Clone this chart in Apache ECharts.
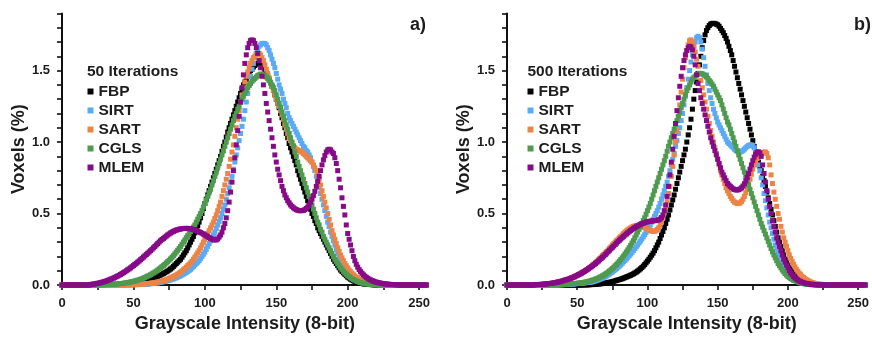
<!DOCTYPE html>
<html><head><meta charset="utf-8">
<script src="https://cdn.jsdelivr.net/npm/echarts@6/dist/echarts.min.js"></script>
<style>html,body{margin:0;padding:0;background:#fff}#c{width:872px;height:338px}</style>
</head><body><div id="c"></div>
<script>
// Grayscale value of the first entry in every array below (values outside the listed range are 0)
const X0 = 20;
const seriesNames = ['FBP', 'SIRT', 'SART', 'CGLS', 'MLEM'];
const panelTitles = ['50 Iterations', '500 Iterations'];
const panelTags = ['a)', 'b)'];
const xTickLabels = [0, 50, 100, 150, 200, 250];
const yTickLabels = [0, 0.5, 1.0, 1.5];
const xAxisTitle = 'Grayscale Intensity (8-bit)';
const yAxisTitle = 'Voxels (%)';

// ---- Panel a) 50 iterations, x = 20..235 ----
const fbpA = [
0,0,0,0,0,0,0,0,0,0,
0,0,0,0,0,0,0,.001,.001,.002,
.003,.003,.004,.005,.006,.007,.008,.009,.01,.011,
.012,.014,.015,.017,.018,.02,.023,.026,.029,.032,
.035,.038,.041,.044,.048,.052,.056,.06,.065,.07,
.075,.08,.086,.092,.098,.105,.112,.12,.13,.14,
.15,.16,.17,.18,.195,.21,.225,.24,.26,.28,
.3,.32,.34,.365,.39,.415,.44,.47,.5,.535,
.57,.6,.63,.66,.69,.72,.75,.78,.81,.84,
.87,.9,.935,.97,1.0,1.035,1.07,1.1,1.13,1.16,
1.19,1.22,1.25,1.28,1.31,1.34,1.37,1.4,1.42,1.44,
1.46,1.48,1.5,1.51,1.525,1.535,1.545,1.55,1.55,1.545,
1.535,1.52,1.505,1.485,1.465,1.44,1.415,1.39,1.36,1.33,
1.3,1.27,1.24,1.2,1.17,1.13,1.1,1.06,1.03,.99,
.96,.93,.9,.87,.84,.8,.77,.74,.71,.68,
.65,.62,.59,.56,.53,.5,.48,.45,.43,.4,
.38,.36,.34,.32,.3,.28,.26,.24,.22,.2,
.18,.165,.15,.135,.12,.105,.095,.085,.075,.065,
.055,.048,.041,.035,.03,.025,.021,.018,.015,.012,
.01,.008,.007,.006,.005,.004,.003,.002,.002,.001,
.001,0,0,0,0,0,0,0,0,0,
0,0,0,0,0,0];
const sirtA = [
0,0,0,0,0,0,0,0,0,0,
0,0,0,0,0,0,0,0,0,0,
0,0,0,0,0,.001,.001,.001,.001,.002,
.002,.002,.003,.003,.003,.004,.004,.005,.005,.006,
.007,.008,.009,.01,.011,.012,.014,.015,.017,.019,
.021,.023,.025,.027,.03,.033,.036,.039,.043,.047,
.05,.055,.06,.065,.07,.076,.082,.088,.095,.102,
.11,.12,.13,.14,.15,.16,.17,.185,.2,.215,
.23,.25,.27,.29,.31,.33,.35,.37,.395,.42,
.445,.47,.5,.53,.56,.6,.64,.68,.72,.76,
.81,.86,.91,.96,1.01,1.06,1.11,1.16,1.22,1.28,
1.34,1.4,1.46,1.51,1.55,1.59,1.62,1.65,1.67,1.68,
1.69,1.69,1.69,1.68,1.66,1.64,1.61,1.58,1.55,1.52,
1.48,1.44,1.4,1.37,1.34,1.3,1.27,1.24,1.2,1.17,
1.15,1.13,1.11,1.09,1.07,1.05,1.03,1.01,.99,.97,
.96,.94,.93,.91,.89,.86,.83,.8,.76,.72,
.68,.64,.6,.56,.52,.48,.44,.41,.37,.34,
.31,.28,.25,.22,.2,.18,.16,.14,.125,.11,
.098,.087,.077,.068,.06,.052,.045,.039,.034,.029,
.025,.021,.018,.015,.013,.011,.009,.007,.006,.005,
.004,.003,.002,.002,.001,.001,0,0,0,0,
0,0,0,0,0,0];
const sartA = [
0,0,0,0,0,0,0,0,0,0,
0,0,0,0,0,0,0,0,0,0,
0,0,0,0,.001,.001,.001,.002,.002,.002,
.003,.003,.004,.004,.005,.006,.006,.007,.008,.009,
.01,.011,.012,.014,.015,.017,.019,.021,.023,.025,
.028,.031,.034,.037,.041,.045,.05,.055,.06,.065,
.07,.076,.083,.09,.098,.106,.115,.125,.135,.145,
.155,.165,.18,.195,.21,.225,.24,.26,.28,.3,
.32,.34,.36,.38,.4,.42,.44,.465,.49,.52,
.55,.58,.62,.66,.7,.74,.78,.83,.88,.93,
.98,1.04,1.1,1.16,1.22,1.28,1.33,1.38,1.42,1.46,
1.49,1.52,1.55,1.57,1.59,1.6,1.61,1.62,1.62,1.61,
1.59,1.57,1.54,1.51,1.48,1.45,1.42,1.39,1.36,1.33,
1.3,1.27,1.25,1.22,1.19,1.16,1.12,1.09,1.06,1.03,
1.01,.99,.975,.96,.95,.945,.94,.935,.93,.92,
.91,.9,.89,.88,.87,.86,.84,.82,.8,.77,
.74,.7,.66,.62,.58,.54,.5,.46,.42,.38,
.35,.32,.29,.26,.235,.21,.19,.17,.15,.135,
.12,.105,.093,.082,.072,.063,.055,.048,.042,.037,
.032,.028,.024,.021,.018,.015,.013,.011,.009,.008,
.006,.005,.004,.003,.003,.002,.002,.001,.001,0,
0,0,0,0,0,0];
const cglsA = [
0,0,0,0,.001,.001,.001,.001,.002,.002,
.002,.003,.003,.004,.004,.005,.006,.006,.007,.008,
.009,.01,.011,.012,.014,.015,.017,.019,.021,.023,
.025,.028,.031,.034,.037,.04,.044,.048,.052,.057,
.062,.067,.072,.078,.084,.09,.097,.104,.112,.12,
.128,.136,.145,.154,.163,.173,.183,.194,.205,.217,
.23,.243,.256,.27,.285,.3,.315,.33,.345,.36,
.375,.39,.405,.42,.44,.46,.48,.5,.52,.545,
.57,.595,.62,.645,.67,.7,.73,.76,.79,.82,
.85,.88,.91,.94,.97,1.0,1.03,1.06,1.09,1.12,
1.15,1.18,1.2,1.23,1.25,1.28,1.3,1.32,1.34,1.36,
1.38,1.395,1.41,1.425,1.435,1.445,1.455,1.465,1.47,1.475,
1.475,1.47,1.465,1.455,1.445,1.43,1.415,1.4,1.38,1.36,
1.33,1.3,1.27,1.24,1.21,1.18,1.15,1.12,1.09,1.06,
1.03,1.0,.97,.93,.9,.86,.83,.8,.77,.74,
.71,.68,.65,.62,.59,.56,.53,.5,.47,.44,
.42,.39,.37,.34,.32,.3,.28,.26,.24,.22,
.2,.18,.165,.15,.135,.12,.108,.096,.085,.075,
.066,.058,.05,.044,.038,.033,.028,.024,.02,.017,
.014,.012,.01,.008,.007,.006,.005,.004,.003,.002,
.002,.001,.001,.001,0,0,0,0,0,0,
0,0,0,0,0,0];
const mlemA = [
.004,.005,.006,.008,.01,.012,.014,.016,.019,.022,
.025,.028,.032,.036,.04,.044,.048,.053,.058,.063,
.068,.074,.08,.086,.092,.099,.106,.113,.12,.128,
.136,.144,.152,.16,.168,.177,.186,.195,.204,.213,
.222,.231,.24,.25,.26,.27,.28,.29,.3,.31,
.318,.326,.334,.342,.35,.357,.364,.37,.375,.38,
.384,.387,.39,.392,.394,.395,.396,.396,.396,.395,
.393,.391,.388,.385,.381,.377,.372,.367,.362,.356,
.35,.344,.338,.332,.326,.321,.317,.315,.316,.322,
.335,.35,.37,.4,.43,.47,.52,.58,.65,.72,
.8,.89,.98,1.08,1.18,1.28,1.38,1.47,1.55,1.61,
1.66,1.69,1.71,1.715,1.71,1.69,1.66,1.62,1.57,1.52,
1.46,1.4,1.34,1.27,1.21,1.15,1.09,1.03,.97,.91,
.86,.81,.77,.73,.69,.66,.63,.61,.59,.575,
.56,.55,.54,.533,.527,.523,.52,.52,.52,.522,
.527,.535,.545,.56,.58,.6,.625,.655,.69,.725,
.76,.8,.84,.875,.905,.93,.945,.95,.945,.93,
.92,.89,.85,.8,.74,.68,.61,.55,.49,.42,
.36,.32,.28,.24,.2,.17,.145,.125,.108,.094,
.082,.071,.062,.054,.047,.041,.036,.031,.027,.023,
.02,.017,.015,.013,.011,.009,.008,.007,.006,.005,
.004,.003,.003,.002,.002,.001];

// ---- Panel b) 500 iterations, x = 20..235 ----
const fbpB = [
0,0,0,0,0,0,0,0,0,0,
0,0,0,0,0,0,0,0,0,0,
0,0,0,0,0,0,0,0,0,0,
0,0,0,0,0,.001,.001,.001,.002,.002,
.003,.003,.004,.005,.006,.007,.008,.009,.01,.012,
.013,.015,.017,.019,.021,.023,.026,.029,.032,.035,
.038,.041,.044,.048,.052,.056,.06,.064,.068,.073,
.078,.084,.09,.097,.105,.113,.122,.132,.143,.155,
.167,.18,.194,.208,.223,.24,.26,.28,.3,.325,
.35,.375,.4,.43,.46,.49,.525,.56,.595,.63,
.67,.71,.75,.79,.83,.87,.91,.95,1.0,1.05,
1.1,1.16,1.23,1.3,1.36,1.42,1.48,1.54,1.6,1.66,
1.71,1.75,1.78,1.8,1.815,1.825,1.83,1.83,1.83,1.825,
1.82,1.81,1.795,1.78,1.765,1.745,1.725,1.7,1.67,1.64,
1.61,1.57,1.53,1.49,1.45,1.41,1.37,1.33,1.29,1.25,
1.21,1.17,1.13,1.09,1.05,1.01,.97,.93,.89,.86,
.83,.8,.76,.73,.69,.65,.61,.57,.53,.49,
.45,.41,.37,.33,.3,.27,.24,.21,.18,.16,
.14,.12,.105,.09,.077,.066,.056,.047,.04,.034,
.028,.023,.019,.015,.012,.01,.008,.006,.005,.004,
.003,.002,.002,.001,.001,0,0,0,0,0,
0,0,0,0,0,0];
const sirtB = [
0,0,0,0,0,0,0,0,0,0,
0,0,0,0,0,.001,.001,.001,.002,.002,
.003,.003,.004,.004,.005,.005,.006,.007,.008,.009,
.01,.011,.012,.013,.014,.015,.016,.017,.018,.019,
.021,.023,.026,.029,.032,.036,.04,.044,.048,.053,
.058,.064,.07,.077,.084,.091,.099,.107,.115,.124,
.133,.142,.152,.162,.172,.183,.194,.205,.217,.229,
.241,.254,.267,.28,.294,.308,.322,.337,.352,.367,
.39,.405,.42,.44,.46,.48,.5,.52,.545,.57,
.6,.63,.66,.69,.72,.76,.8,.84,.88,.92,
.97,1.01,1.06,1.1,1.15,1.2,1.26,1.32,1.38,1.44,
1.5,1.56,1.61,1.66,1.7,1.73,1.74,1.73,1.7,1.65,
1.59,1.53,1.47,1.41,1.36,1.31,1.27,1.23,1.2,1.17,
1.14,1.12,1.1,1.08,1.06,1.04,1.02,1.0,.99,.98,
.97,.96,.95,.94,.935,.93,.93,.935,.94,.95,
.96,.97,.975,.98,.98,.975,.96,.93,.89,.84,
.8,.75,.7,.64,.59,.54,.49,.44,.4,.36,
.32,.28,.25,.22,.195,.17,.15,.135,.118,.104,
.09,.078,.067,.058,.05,.043,.037,.032,.027,.023,
.019,.016,.013,.011,.009,.007,.006,.005,.004,.003,
.002,.002,.001,.001,0,0,0,0,0,0,
0,0,0,0,0,0];
const sartB = [
.002,.002,.003,.003,.004,.004,.005,.006,.007,.008,
.009,.01,.011,.013,.015,.017,.019,.021,.023,.026,
.029,.032,.035,.038,.041,.045,.049,.053,.057,.062,
.067,.072,.077,.083,.089,.095,.101,.108,.115,.122,
.13,.138,.147,.156,.165,.175,.185,.195,.205,.215,
.225,.235,.245,.256,.267,.278,.289,.3,.31,.32,
.33,.34,.35,.36,.37,.378,.386,.393,.4,.405,
.41,.413,.415,.416,.416,.414,.411,.407,.402,.397,
.392,.386,.381,.377,.375,.376,.38,.388,.4,.418,
.44,.47,.505,.545,.59,.64,.69,.76,.83,.91,
1.0,1.08,1.17,1.26,1.35,1.44,1.52,1.59,1.64,1.68,
1.71,1.715,1.7,1.67,1.63,1.58,1.53,1.48,1.43,1.38,
1.33,1.28,1.23,1.18,1.13,1.08,1.04,1.0,.96,.92,
.88,.84,.8,.77,.74,.71,.68,.66,.64,.62,
.605,.59,.58,.575,.57,.57,.575,.585,.6,.62,
.645,.675,.705,.74,.775,.81,.84,.865,.885,.9,
.91,.92,.925,.93,.93,.92,.89,.84,.77,.71,
.65,.6,.55,.5,.46,.41,.37,.33,.3,.27,
.24,.21,.185,.165,.145,.127,.11,.096,.083,.072,
.062,.053,.045,.038,.032,.027,.022,.018,.015,.012,
.01,.008,.006,.005,.004,.003,.002,.002,.001,.001,
0,0,0,0,0,0];
const cglsB = [
0,0,0,0,0,0,0,.001,.001,.001,
.001,.001,.001,.002,.002,.002,.003,.003,.003,.004,
.004,.005,.005,.006,.007,.007,.008,.009,.01,.011,
.012,.013,.014,.016,.017,.019,.021,.023,.025,.028,
.031,.034,.037,.041,.045,.049,.054,.059,.064,.07,
.076,.083,.09,.098,.106,.115,.124,.134,.144,.155,
.166,.178,.19,.203,.217,.231,.246,.261,.277,.294,
.31,.33,.35,.37,.39,.41,.43,.45,.47,.495,
.52,.545,.57,.6,.63,.66,.69,.72,.75,.78,
.81,.84,.87,.9,.935,.97,1.0,1.03,1.06,1.09,
1.12,1.15,1.18,1.21,1.24,1.27,1.3,1.33,1.36,1.38,
1.4,1.42,1.44,1.45,1.46,1.47,1.475,1.48,1.48,1.478,
1.47,1.465,1.455,1.445,1.43,1.42,1.405,1.39,1.37,1.35,
1.33,1.31,1.29,1.26,1.23,1.2,1.17,1.14,1.12,1.09,
1.06,1.03,1.0,.97,.94,.91,.88,.85,.82,.79,
.76,.73,.7,.67,.64,.61,.58,.55,.52,.49,
.46,.43,.405,.38,.355,.33,.305,.28,.255,.232,
.21,.19,.17,.15,.135,.12,.105,.092,.08,.07,
.06,.052,.045,.039,.034,.03,.026,.022,.018,.015,
.012,.01,.008,.006,.005,.004,.003,.002,.002,.001,
.001,0,0,0,0,0,0,0,0,0,
0,0,0,0,0,0];
const mlemB = [
.002,.003,.003,.004,.004,.005,.006,.007,.008,.009,
.01,.011,.013,.014,.016,.018,.02,.022,.024,.027,
.03,.033,.036,.039,.042,.046,.05,.054,.058,.063,
.068,.073,.078,.083,.089,.095,.101,.107,.114,.121,
.128,.135,.143,.151,.159,.167,.176,.185,.194,.203,
.213,.223,.233,.243,.253,.263,.273,.283,.293,.303,
.313,.322,.331,.34,.349,.357,.365,.373,.381,.388,
.395,.402,.408,.414,.419,.424,.428,.432,.436,.439,
.442,.444,.446,.448,.449,.45,.451,.453,.456,.462,
.472,.49,.52,.56,.62,.69,.77,.86,.95,1.04,
1.13,1.22,1.31,1.39,1.46,1.52,1.57,1.61,1.64,1.66,
1.67,1.665,1.645,1.6,1.54,1.47,1.41,1.36,1.31,1.27,
1.23,1.19,1.15,1.11,1.07,1.03,1.0,.97,.94,.91,
.88,.85,.82,.79,.77,.75,.73,.71,.7,.69,
.68,.673,.668,.665,.665,.667,.672,.68,.692,.708,
.728,.752,.78,.81,.84,.87,.895,.915,.928,.932,
.925,.9,.84,.78,.72,.66,.6,.55,.5,.45,
.41,.37,.33,.3,.27,.24,.21,.18,.16,.14,
.12,.1,.085,.072,.06,.05,.042,.035,.029,.024,
.02,.016,.013,.011,.009,.007,.006,.005,.004,.003,
.002,.002,.001,.001,0,0,0,0,0,0,
0,0,0,0,0,0];

const panelData = [
  [fbpA, sirtA, sartA, cglsA, mlemA],
  [fbpB, sirtB, sartB, cglsB, mlemB]
];
const colors = ['#000000', '#5aaaf6', '#ec8446', '#4e9a4e', '#870a87'];

const FONT = '"Liberation Sans", Arial, Helvetica, sans-serif';
const TXT = '#1c1c1c';

function toPoints(arr) {
  const pts = [];
  for (let x = 0; x <= 255; x++) {
    const i = x - X0;
    pts.push([x, (i >= 0 && i < arr.length) ? arr[i] : 0]);
  }
  return pts;
}

const gridLefts = [62, 507];
const xTicks = [];
for (let v = 0; v <= 250; v += 25) xTicks.push(v);

const grids = [], xAxes = [], yAxes = [], series = [], legends = [], titles = [];
gridLefts.forEach((gl, p) => {
  grids.push({ left: gl, top: 13.4, width: 365.7, height: 273.6 });
  xAxes.push({
    gridIndex: p, type: 'value', min: 0, max: 256, interval: 25,
    name: xAxisTitle, nameLocation: 'middle', nameGap: 30,
    nameTextStyle: { fontFamily: FONT, fontSize: 18, fontWeight: 'bold', color: TXT },
    axisLine: { lineStyle: { color: '#111', width: 2 } },
    axisTick: { customValues: xTicks, length: 5, lineStyle: { color: '#111', width: 1.6 } },
    axisLabel: {
      customValues: xTickLabels, margin: 12, fontFamily: FONT, fontSize: 13, fontWeight: 'bold', color: TXT,
      formatter: v => (v % 50 === 0 ? String(v) : '')
    },
    splitLine: { show: false }
  });
  yAxes.push({
    gridIndex: p, type: 'value', min: 0, max: 1.9, interval: 0.1,
    name: yAxisTitle, nameLocation: 'middle', nameGap: 31,
    nameTextStyle: { fontFamily: FONT, fontSize: 18, fontWeight: 'bold', color: TXT },
    axisLine: { show: true, lineStyle: { color: '#111', width: 2 } },
    axisTick: { show: true, length: 5, lineStyle: { color: '#111', width: 1.6 } },
    axisLabel: {
      margin: 12, fontFamily: FONT, fontSize: 13, fontWeight: 'bold', color: TXT,
      formatter: v => (yTickLabels.some(t => Math.abs(t - v) < 1e-6) ? v.toFixed(1) : '')
    },
    splitLine: { show: false }
  });
  panelData[p].forEach((arr, k) => {
    series.push({
      type: 'scatter', name: seriesNames[k], xAxisIndex: p, yAxisIndex: p,
      symbol: 'rect', symbolSize: 5, silent: true,
      itemStyle: { color: colors[k], opacity: 1 },
      data: toPoints(arr)
    });
  });
  const legLeft = p === 0 ? 87.5 : 527.5;
  legends.push({
    orient: 'vertical', left: legLeft, top: 82, padding: 0, itemGap: 0,
    icon: 'rect', itemWidth: 6, itemHeight: 6, selectedMode: false,
    textStyle: { fontFamily: FONT, fontSize: 15.5, fontWeight: 'bold', color: TXT, lineHeight: 19 },
    data: seriesNames
  });
  titles.push({
    text: panelTitles[p], left: p === 0 ? 87 : 527.5, top: 62, padding: 0,
    textStyle: { fontFamily: FONT, fontSize: 15.5, fontWeight: 'bold', color: TXT, lineHeight: 19 }
  });
  titles.push({
    text: panelTags[p], left: p === 0 ? 410 : 854, top: 15.5, padding: 0,
    textStyle: { fontFamily: FONT, fontSize: 18, fontWeight: 'bold', color: TXT, lineHeight: 19 }
  });
});

const chart = echarts.init(document.getElementById('c'), null, { renderer: 'canvas' });
chart.setOption({
  animation: false,
  backgroundColor: '#ffffff',
  title: titles,
  legend: legends,
  grid: grids,
  xAxis: xAxes,
  yAxis: yAxes,
  series: series
});
</script></body></html>
